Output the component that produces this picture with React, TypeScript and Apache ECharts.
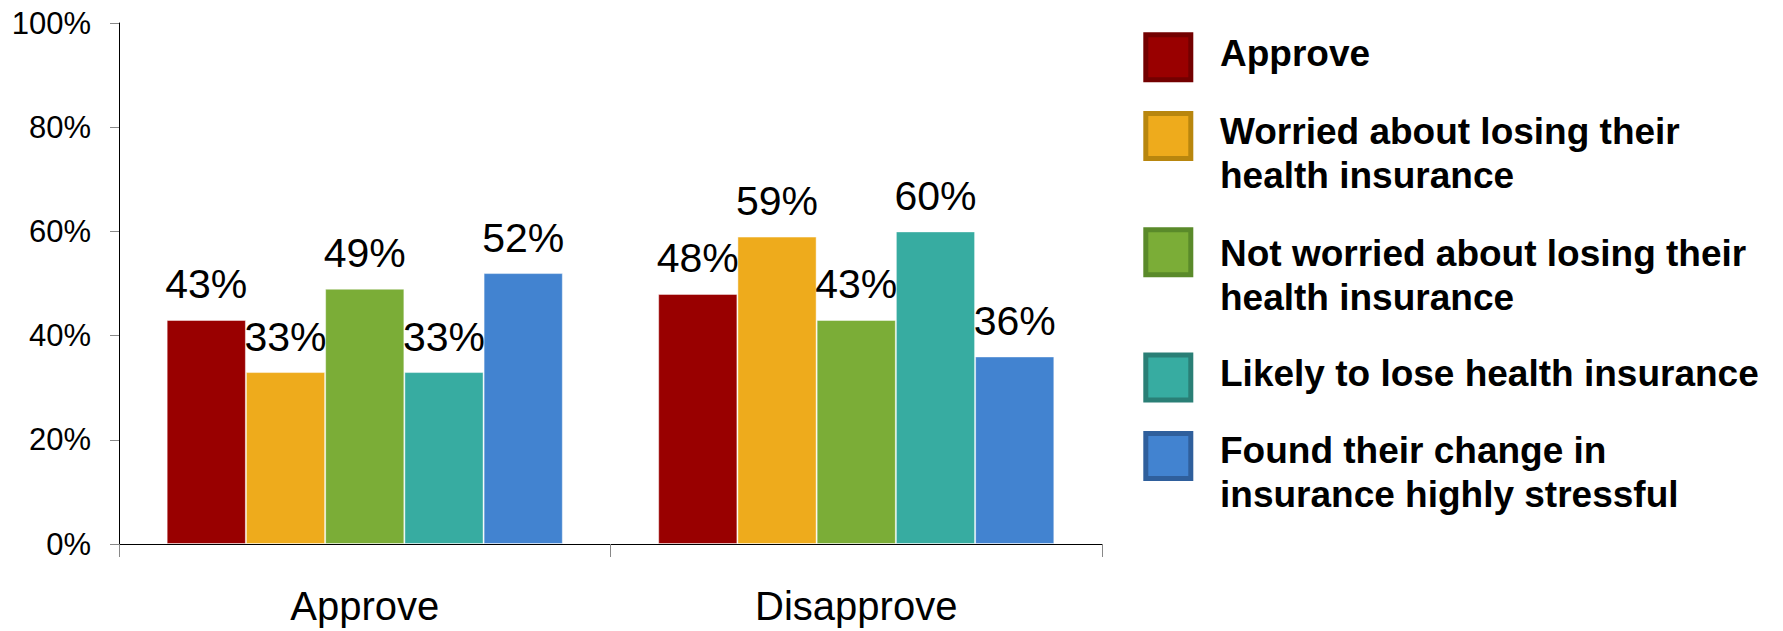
import React, { useEffect, useRef } from "react";
import * as echarts from "echarts";

const categories = ["Approve", "Disapprove"];
const seriesNames = [
  "Approve",
  "Worried about losing their health insurance",
  "Not worried about losing their health insurance",
  "Likely to lose health insurance",
  "Found their change in insurance highly stressful",
];
const legendLines = [
  ["Approve"],
  ["Worried about losing their", "health insurance"],
  ["Not worried about losing their", "health insurance"],
  ["Likely to lose health insurance"],
  ["Found their change in", "insurance highly stressful"],
];
const approveValues = [43, 33, 49, 33, 52];
const disapproveValues = [48, 59, 43, 60, 36];
const colors = ["#990000", "#EEAB1C", "#7BAD37", "#37ACA1", "#4283D0"];
const borderColors = ["#730000", "#B8860E", "#5A8A2A", "#2A7F76", "#2F5F9C"];

const FONT = '"Liberation Sans", Arial, sans-serif';

export default function App() {
  const ref = useRef<HTMLDivElement>(null);

  useEffect(() => {
    if (!ref.current) return;
    const chart = echarts.init(ref.current, undefined, { renderer: "svg" });

    const squareCenters = [57.3, 136, 252.3, 377.5, 456];
    const textTops = [31.9, 109.5, 231.9, 351.9, 428.5];
    const legendGraphics: any[] = [];
    legendLines.forEach((lines, i) => {
      legendGraphics.push({
        type: "rect",
        shape: { x: 1145.8, y: squareCenters[i] - 22.5, width: 45, height: 45 },
        style: { fill: colors[i], stroke: borderColors[i], lineWidth: 5 },
      });
      legendGraphics.push({
        type: "text",
        x: 1220,
        y: textTops[i],
        style: {
          text: lines.join("\n"),
          fontFamily: FONT,
          fontWeight: "bold",
          fontSize: 37,
          lineHeight: 44,
          fill: "#000",
          verticalAlign: "top",
          align: "left",
        },
      });
    });

    chart.setOption({
      animation: false,
      backgroundColor: "#fff",
      grid: { left: 119, right: 681, top: 23, bottom: 87, containLabel: false },
      xAxis: {
        type: "category",
        data: categories,
        axisLine: { lineStyle: { color: "#000", width: 1 } },
        axisTick: { show: true, length: 13, lineStyle: { color: "#888" } },
        axisLabel: { color: "#000", fontSize: 40, fontFamily: FONT, margin: 42 },
      },
      yAxis: {
        type: "value",
        min: 0,
        max: 100,
        interval: 20,
        splitLine: { show: false },
        axisLine: { show: true, lineStyle: { color: "#000", width: 1 } },
        axisTick: { show: true, length: 9, lineStyle: { color: "#888" } },
        axisLabel: {
          color: "#000",
          fontSize: 31,
          fontFamily: FONT,
          margin: 28,
          formatter: "{value}%",
        },
      },
      series: seriesNames.map((name, i) => ({
        name,
        type: "bar",
        data: [approveValues[i], disapproveValues[i]],
        barGap: "0%",
        barCategoryGap: "19.4%",
        itemStyle: {
          color: colors[i],
          borderColor: "rgba(255,255,255,0.45)",
          borderWidth: 1,
        },
        label: {
          show: true,
          position: "top",
          distance: 15,
          formatter: "{c}%",
          color: "#000",
          fontSize: 41,
          fontFamily: FONT,
        },
      })),
      graphic: legendGraphics,
    });

    return () => chart.dispose();
  }, []);

  return (
    <div
      ref={ref}
      style={{ position: "absolute", left: 0, top: 0, width: 1783, height: 631 }}
    />
  );
}
